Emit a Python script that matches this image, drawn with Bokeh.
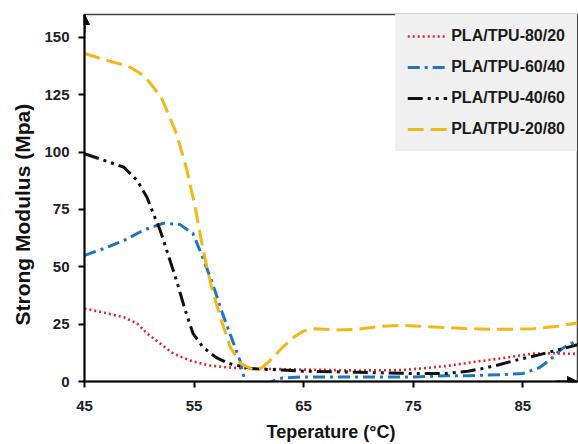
from bokeh.plotting import figure
from bokeh.models import Range1d, Legend, LegendItem, Arrow, NormalHead, FixedTicker, Title
from bokeh.embed import file_html
from bokeh.resources import INLINE

# ---- data ----
x_8020 = [45, 46.8, 48.6, 49.8, 50.7, 51.9, 53.1, 54.6, 56.4, 58.2, 60.3, 65, 70, 74, 76, 78.4, 80.5, 82.9, 85.9, 88, 90]
y_8020 = [31.8, 30, 28, 25.3, 21, 16.6, 12.2, 9.2, 7, 6.1, 5.6, 5.2, 4.8, 5, 5.8, 7, 8.5, 10, 12.2, 12.3, 12]

x_6040 = [45, 46.8, 48.6, 50.4, 52.2, 53.7, 54.9, 55.8, 56.7, 57.6, 58.5, 59.2, 59.7, 60.5, 61.5, 63, 65, 70, 75, 78, 80, 83, 85, 86.5, 87.5, 88.6, 90]
y_6040 = [55, 58, 61.5, 66, 69, 68.5, 64.5, 54, 42.5, 29.6, 18, 9, -1, -4, -1, 1.5, 2, 2, 2, 2.5, 2.5, 3, 3.5, 6, 9.5, 14.4, 18]

x_4060 = [45, 46.8, 48.6, 49.8, 50.7, 51.3, 51.9, 52.6, 53.4, 54.2, 54.9, 55.8, 57, 58.2, 60.3, 63, 65, 70, 75, 78, 80, 81.5, 83, 84, 85, 86.2, 88, 90]
y_4060 = [99.3, 96.4, 93.4, 87.7, 80.3, 73, 66, 55.8, 44, 31, 21, 15, 10.5, 7.8, 5.6, 5, 4.5, 4, 3.5, 3.5, 4.5, 5.8, 7.5, 8.8, 10, 11.3, 13.5, 16]

x_2080 = [45, 47, 49, 50.5, 52, 53.4, 54.3, 55.1, 55.8, 56.6, 57.4, 58.3, 59.2, 60.4, 61.2, 61.9, 63, 64, 65, 66, 68, 70, 72, 74, 76, 78, 80, 82, 84, 86, 88, 90]
y_2080 = [143, 140, 137.5, 133, 124, 108, 93, 76, 58, 41, 28, 15, 8, 5, 6, 9, 14.5, 19, 22, 23, 22.5, 22.8, 24, 24.5, 24, 23.5, 23, 22.8, 22.8, 23, 24, 25.5]

labels = ["PLA/TPU-80/20", "PLA/TPU-60/40", "PLA/TPU-40/60", "PLA/TPU-20/80"]
x_ticks = [45, 55, 65, 75, 85]
y_ticks = [0, 25, 50, 75, 100, 125, 150]
x_min, x_max = 45, 90
y_min, y_max = 0, 160

FONT = "Liberation Sans"
LEGEND_BG = "#f0f0f0"

p = figure(width=578, height=444, output_backend="svg", toolbar_location=None,
           x_range=Range1d(x_min, x_max), y_range=Range1d(y_min, y_max),
           min_border_left=80, min_border_right=1, min_border_top=14, min_border_bottom=63)

p.grid.visible = False
p.background_fill_color = "white"
p.outline_line_color = "#444444"
p.outline_line_width = 1.5

r1 = p.line(x_8020, y_8020, line_color="#e0242b", line_width=2.6, line_dash="2 3")
r2 = p.line(x_6040, y_6040, line_color="#1f75c2", line_width=3, line_dash="12 5 3 5")
r3 = p.line(x_4060, y_4060, line_color="#111111", line_width=3, line_dash="15 5 3 5 3 5")
r4 = p.line(x_2080, y_2080, line_color="#f4b718", line_width=3, line_dash="16 7")

legend = Legend(items=[LegendItem(label=l, renderers=[r]) for l, r in zip(labels, [r1, r2, r3, r4])],
                location="top_right")
legend.background_fill_color = LEGEND_BG
legend.background_fill_alpha = 1
legend.border_line_color = LEGEND_BG
legend.border_line_width = 1
legend.label_text_font = FONT
legend.label_text_font_style = "bold"
legend.label_text_font_size = "16px"
legend.label_text_color = "#1a1a1a"
legend.glyph_width = 40
legend.glyph_height = 20
legend.label_height = 20
legend.spacing = 11
legend.padding = 11
legend.margin = 0
legend.label_standoff = 4
p.add_layout(legend)

for ax in (p.xaxis[0], p.yaxis[0]):
    ax.axis_line_width = 2
    ax.axis_line_color = "black"
    ax.major_tick_line_width = 2
    ax.major_tick_line_color = "black"
    ax.major_tick_out = 6
    ax.major_tick_in = 0
    ax.minor_tick_line_color = None
    ax.major_label_text_font = FONT
    ax.major_label_text_font_style = "bold"
    ax.major_label_text_font_size = "15px"
    ax.major_label_text_color = "#222222"
    ax.axis_label_text_font = FONT
    ax.axis_label_text_font_style = "bold"
    ax.axis_label_text_color = "#111111"

p.xaxis.ticker = FixedTicker(ticks=x_ticks)
p.yaxis.ticker = FixedTicker(ticks=y_ticks)
p.xaxis.axis_label = "Teperature (°C)"
p.xaxis.axis_label_text_font_size = "18px"
p.xaxis.axis_label_standoff = 8
p.xaxis.major_label_standoff = 13
p.yaxis.major_label_standoff = 9

# y-axis title, placed a little below centre as in the reference
ytitle = Title(text="Strong Modulus (Mpa)", align="left", offset=56,
               text_font=FONT, text_font_style="bold", text_font_size="21px",
               text_color="#111111", standoff=16)
p.add_layout(ytitle, "left")

# axis arrows
p.add_layout(Arrow(end=NormalHead(size=10, fill_color="black", line_color="black", line_width=1),
                   x_start=x_min, y_start=y_max - 8, x_end=x_min, y_end=y_max,
                   line_width=2, line_color="black"))
p.add_layout(Arrow(end=NormalHead(size=10, fill_color="black", line_color="black", line_width=1),
                   x_start=x_max - 2, y_start=y_min, x_end=x_max, y_end=y_min,
                   line_width=2, line_color="black"))

open("out.html", "w").write(file_html(p, INLINE))
